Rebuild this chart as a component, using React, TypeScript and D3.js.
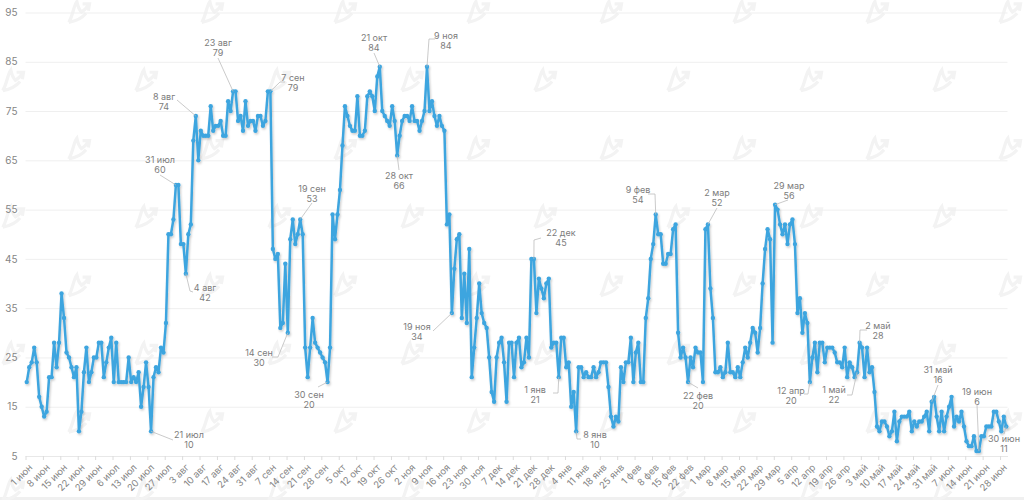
import { useEffect, useRef } from "react";
import * as d3 from "d3";

// daily values, one array per month
const jun = [20, 23, 24, 27, 24, 17, 15, 13, 14, 21, 21, 28, 23, 28, 38, 33, 26, 25, 23, 21, 23, 10, 14, 22, 27, 20, 22, 25, 25, 28];
const jul = [28, 21, 24, 27, 29, 20, 28, 20, 20, 20, 20, 25, 20, 21, 20, 22, 15, 19, 24, 19, 10, 21, 23, 22, 27, 26, 32, 50, 50, 53, 60];
const aug = [60, 48, 48, 42, 50, 52, 69, 74, 65, 71, 70, 70, 70, 76, 71, 72, 72, 73, 70, 70, 77, 75, 79, 79, 73, 74, 71, 77, 72, 73, 73];
const sep = [71, 74, 74, 72, 73, 79, 79, 47, 45, 46, 31, 32, 44, 30, 49, 53, 48, 50, 53, 50, 27, 21, 27, 33, 28, 27, 26, 25, 24, 20];
const oct = [27, 54, 49, 54, 59, 68, 76, 74, 72, 71, 71, 78, 70, 70, 71, 78, 79, 78, 75, 82, 84, 75, 74, 73, 72, 76, 73, 66, 70, 73, 74];
const nov = [74, 73, 76, 73, 73, 71, 73, 75, 84, 75, 77, 74, 72, 74, 72, 71, 52, 54, 34, 43, 49, 50, 33, 42, 32, 47, 21, 27, 33, 40];
const dec = [34, 32, 31, 25, 18, 16, 25, 28, 29, 24, 16, 28, 28, 21, 28, 29, 23, 24, 29, 25, 45, 45, 34, 41, 39, 37, 40, 41, 27, 28, 28];
const jan = [21, 29, 29, 23, 24, 15, 18, 10, 23, 23, 21, 22, 21, 21, 23, 21, 22, 24, 24, 24, 19, 13, 11, 13, 12, 23, 20, 24, 24, 29, 20];
const feb = [26, 28, 20, 20, 33, 37, 45, 48, 54, 50, 50, 44, 44, 46, 46, 51, 52, 30, 25, 27, 25, 20, 25, 23, 27, 26, 26, 20];
const mar = [51, 52, 39, 33, 22, 22, 23, 21, 22, 28, 22, 22, 21, 23, 21, 24, 27, 25, 28, 31, 30, 26, 31, 40, 47, 51, 49, 28, 56, 55, 52];
const apr = [50, 52, 48, 52, 53, 48, 34, 37, 30, 34, 32, 20, 25, 28, 22, 28, 28, 24, 27, 27, 27, 26, 24, 24, 23, 27, 21, 24, 23, 21];
const may = [22, 28, 27, 21, 27, 22, 23, 18, 11, 10, 12, 12, 11, 9, 10, 14, 8, 12, 13, 13, 13, 14, 10, 12, 11, 12, 12, 13, 14, 10, 16];
const jun2 = [17, 13, 10, 14, 10, 13, 15, 17, 11, 13, 12, 14, 11, 8, 7, 7, 9, 6, 6, 9, 9, 11, 11, 11, 14, 14, 12, 10, 13, 11];
const values = [...jun, ...jul, ...aug, ...sep, ...oct, ...nov, ...dec, ...jan, ...feb, ...mar, ...apr, ...may, ...jun2];

const yTicks = [5, 15, 25, 35, 45, 55, 65, 75, 85, 95];
const xTickLabels = [
  "1 июн", "8 июн", "15 июн", "22 июн", "29 июн", "6 июл", "13 июл", "20 июл", "27 июл", "3 авг",
  "10 авг", "17 авг", "24 авг", "31 авг", "7 сен", "14 сен", "21 сен", "28 сен", "5 окт", "12 окт",
  "19 окт", "26 окт", "2 ноя", "9 ноя", "16 ноя", "23 ноя", "30 ноя", "7 дек", "14 дек", "21 дек",
  "28 дек", "4 янв", "11 янв", "18 янв", "25 янв", "1 фев", "8 фев", "15 фев", "22 фев", "1 мар",
  "8 мар", "15 мар", "22 мар", "29 мар", "5 апр", "12 апр", "19 апр", "26 апр", "3 май", "10 май",
  "17 май", "24 май", "31 май", "7 июн", "14 июн", "21 июн", "28 июн",
];

// callouts: day index in `values` and the date text
const calloutDays = [50, 64, 60, 68, 83, 98, 110, 105, 121, 142, 161, 149, 171, 204, 214, 221, 253, 274, 266, 301, 315, 334, 335, 364, 383, 394];
const calloutDates = [
  "21 июл", "4 авг", "31 июл", "8 авг", "23 авг", "7 сен", "19 сен", "14 сен", "30 сен", "21 окт", "9 ноя", "28 окт", "19 ноя",
  "22 дек", "1 янв", "8 янв", "9 фев", "2 мар", "22 фев", "29 мар", "12 апр", "1 май", "2 май", "31 май", "19 июн", "30 июн",
];
// where each callout text sits [x, y of the first line], and the leader line bends
const calloutText = [
  [189, 438], [205, 291], [160, 163], [164, 100], [218, 46], [293, 81], [312, 192], [259, 356], [309, 398], [374, 41], [446, 39], [399, 179], [417, 330],
  [561, 236], [535, 393], [595, 438], [638, 193], [717, 196], [698, 399], [789, 189], [791, 394], [834, 393], [878, 329], [938, 373], [977, 395], [1004, 442],
];
const calloutBends = [
  [[173, 440]], [[190, 291], [193, 292]], [[160, 175]], [[177, 100]], [[218, 58]], [[280, 82], [285, 82]], [[312, 203]], [[278, 357], [272, 357]], [[318, 387]], [[374, 53]], [[429, 39], [435, 39]], [[399, 170]], [[433, 331]],
  [[534, 240], [541, 238]], [[558, 393], [553, 393]], [[577, 439], [581, 439]], [[655, 194], [648, 194]], [[717, 208]], [[698, 388]], [[788, 200]], [[808, 394], [804, 394]], [[852, 395], [847, 395]], [[860, 330], [867, 330]], [[938, 385]], [[977, 405]], [[1004, 434]],
];

const W = 1024;
const H = 500;

export default function App() {
  const ref = useRef<SVGSVGElement>(null);

  useEffect(() => {
    const svg = d3.select(ref.current);
    svg.selectAll("*").remove();
    const font = "Inter, 'Noto Sans', sans-serif";

    // x is in days, a day's point sits in the middle of its slot
    const x = d3.scaleLinear().domain([0, values.length]).range([25.5, 1007.5]);
    const y = d3.scaleLinear().domain([5, 95]).range([456, 12.5]);

    // page strip and watermarks
    svg.append("rect").attr("y", 497).attr("width", W).attr("height", 3).attr("fill", "#f0f0f0");
    const rowsY = d3.range(8).map((i) => 12 + i * 68.3);
    rowsY.forEach((ry, i) => {
      d3.range(8).forEach((k) => {
        svg
          .append("path")
          .attr("transform", `translate(${(i % 2 ? 12 : 78) + k * 133},${ry}) scale(1.15)`)
          .attr("d", "M-8,9 C-4,2 -4,-5 -1,-9 C0,-4 1,-2 3,0 C5,-1 7,-3 9,-6 M4,-7 L10,-7 L9,-1 M-8,9 C-3,8 3,6 7,1")
          .attr("fill", "none")
          .attr("stroke", "#f3f3f3")
          .attr("stroke-width", 2.8);
      });
    });

    // y axis and grid
    const gy = svg
      .append("g")
      .attr("transform", "translate(25.5,0)")
      .call(
        d3.axisLeft(y).tickValues(yTicks).tickSize(0).tickPadding(8).tickFormat((d) => String(d))
      );
    gy.select(".domain").remove();
    gy.selectAll("text").attr("fill", "#858585").attr("font-size", 10).attr("font-family", font);
    gy.selectAll(".tick line")
      .attr("x2", 982)
      .attr("stroke", "#efefef")
      .attr("stroke-width", 1);

    // x axis
    const gx = svg
      .append("g")
      .attr("transform", "translate(0,456)")
      .call(
        d3
          .axisBottom(x)
          .tickValues(xTickLabels.map((_, i) => i * 7))
          .tickSize(4)
          .tickSizeOuter(0)
          .tickFormat((_, i) => xTickLabels[i])
      );
    gx.select(".domain").attr("stroke", "#e8e8e8");
    gx.selectAll(".tick line").attr("stroke", "#dcdcdc");
    gx.selectAll("text")
      .attr("fill", "#858585")
      .attr("font-size", 9.5)
      .attr("font-family", font)
      .attr("text-anchor", "end")
      .attr("transform", "translate(3,8) rotate(-45)")
      .attr("dy", "0.6em")
      .attr("y", 0);

    // shadow under the series
    const filter = svg
      .append("defs")
      .append("filter")
      .attr("id", "shadow")
      .attr("x", "-5%")
      .attr("y", "-5%")
      .attr("width", "110%")
      .attr("height", "110%");
    filter
      .append("feDropShadow")
      .attr("dx", 1)
      .attr("dy", 1.5)
      .attr("stdDeviation", 1.2)
      .attr("flood-color", "#000")
      .attr("flood-opacity", 0.22);

    const px = (i: number) => x(i + 0.5);
    const line = d3
      .line<number>()
      .x((_, i) => px(i))
      .y((d) => y(d));

    const series = svg.append("g").attr("filter", "url(#shadow)");
    series
      .append("path")
      .attr("d", line(values))
      .attr("fill", "none")
      .attr("stroke", "#3ea5df")
      .attr("stroke-width", 2.5)
      .attr("stroke-linejoin", "round");
    series
      .selectAll("circle")
      .data(values)
      .enter()
      .append("circle")
      .attr("cx", (_, i) => px(i))
      .attr("cy", (d) => y(d))
      .attr("r", 2.2)
      .attr("fill", "#3ea5df");

    // callouts
    const notes = svg.append("g");
    calloutDays.forEach((day, i) => {
      const leader = d3.line()([[px(day), y(values[day])], ...calloutBends[i]] as [number, number][]);
      notes
        .append("path")
        .attr("d", leader)
        .attr("fill", "none")
        .attr("stroke", "#bdbdbd")
        .attr("stroke-width", 0.8);
      const t = notes
        .append("text")
        .attr("x", calloutText[i][0])
        .attr("y", calloutText[i][1])
        .attr("text-anchor", "middle")
        .attr("fill", "#7c7c7c")
        .attr("font-size", 9)
        .attr("font-family", font);
      t.append("tspan").text(calloutDates[i]);
      t.append("tspan")
        .attr("x", calloutText[i][0])
        .attr("dy", 9.5)
        .text(values[day]);
    });
  }, []);

  return (
    <div style={{ position: "fixed", left: 0, top: 0, background: "#fff" }}>
      <svg ref={ref} width={W} height={H} style={{ display: "block" }} />
    </div>
  );
}
